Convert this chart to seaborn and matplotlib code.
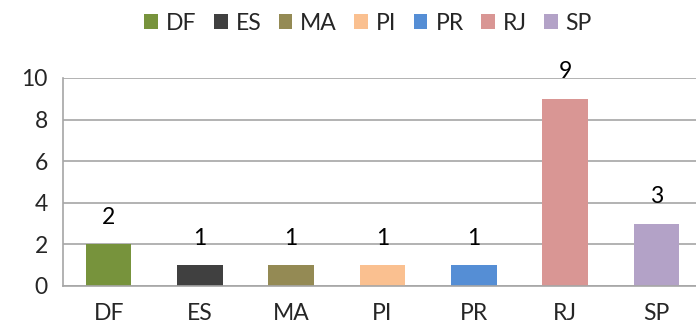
import matplotlib
matplotlib.use("Agg")
import matplotlib.pyplot as plt
import seaborn as sns
import pandas as pd
from matplotlib.patches import Patch

states = ["DF", "ES", "MA", "PI", "PR", "RJ", "SP"]
counts = [2, 1, 1, 1, 1, 9, 3]
colors = ["#77933C", "#404040", "#948A54", "#FAC090", "#558ED5", "#D99694", "#B3A2C7"]
y_ticks = [0, 2, 4, 6, 8, 10]

sns.set_theme(style="white")
plt.rcParams["font.family"] = ["Lato", "DejaVu Sans"]
FS = 16.5

df = pd.DataFrame({"estado": states, "n": counts})

fig = plt.figure(figsize=(6.96, 3.33), dpi=100)
ax = fig.add_axes([63 / 696, 47 / 333, 639 / 696, 208 / 333])

sns.barplot(data=df, x="estado", y="n", hue="estado", palette=colors,
            order=states, hue_order=states, width=0.5, legend=False,
            saturation=1, linewidth=0, ax=ax)

ax.set_ylim(0, 10)
ax.set_xlim(-0.5, len(states) - 0.5)
ax.set_yticks(y_ticks)
ax.set_xlabel("")
ax.set_ylabel("")

grid_c = "#A6A6A6"
ax.yaxis.grid(True, color=grid_c, linewidth=1.2)
ax.set_axisbelow(True)
for s in ["top", "right"]:
    ax.spines[s].set_visible(False)
for s in ["left", "bottom"]:
    ax.spines[s].set_color(grid_c)
    ax.spines[s].set_linewidth(1.2)

# Category ticks sit between bars, labels centered under each bar
ax.set_xticks([i + 0.5 for i in range(len(states) - 1)], minor=False)
ax.set_xticklabels([])
ax.set_xticks(range(len(states)), minor=True)
ax.set_xticklabels(states, minor=True)
ax.tick_params(axis="x", which="major", length=6, width=1.2, color=grid_c, direction="out")
ax.tick_params(axis="x", which="minor", length=0, pad=12, labelsize=FS)
ax.tick_params(axis="y", length=8, width=1.2, color=grid_c, direction="out", pad=3, labelsize=FS)

for i, v in enumerate(counts):
    ax.text(i, v + 1.3, str(v), ha="center", va="center", fontsize=FS, color="#000000",
            clip_on=False)

handles = [Patch(facecolor=c, edgecolor="none") for c in colors]
fig.legend(handles, states, loc="center", bbox_to_anchor=(0.529, 0.93), ncol=len(states),
           frameon=False, fontsize=FS, handlelength=0.6, handleheight=0.6,
           handletextpad=0.35, columnspacing=0.75)

fig.savefig("out.png", dpi=100)
